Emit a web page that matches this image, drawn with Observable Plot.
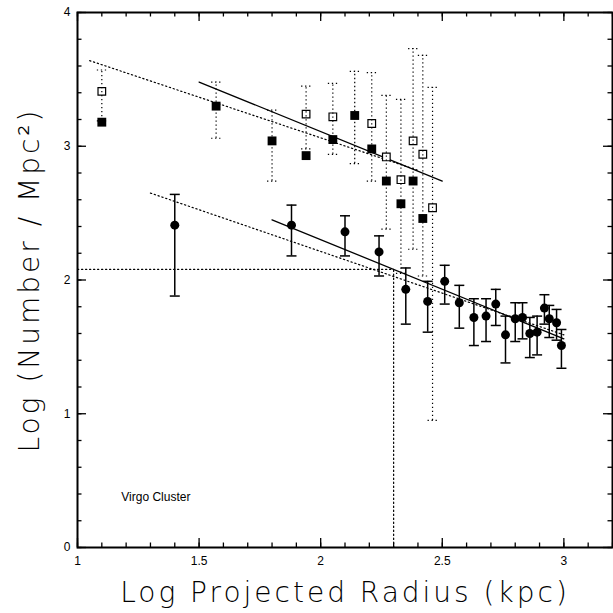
<!DOCTYPE html>
<html><head><meta charset="utf-8">
<script src="https://cdn.jsdelivr.net/npm/d3@7"></script>
<script src="https://cdn.jsdelivr.net/npm/@observablehq/plot@0.6"></script>
<style>body{margin:0;background:#fff}</style>
</head><body><div id="chart"></div>
<script>
// Squares (open = one sample, filled = another), dotted error bars
const sqX      = [1.10, 1.57, 1.80, 1.94, 2.05, 2.14, 2.21, 2.27, 2.33, 2.38, 2.42, 2.46];
const sqOpen   = [3.41, null, null, 3.24, 3.22, null, 3.17, 2.92, 2.75, 3.04, 2.94, 2.54];
const sqFilled = [3.18, 3.30, 3.04, 2.93, 3.05, 3.23, 2.98, 2.74, 2.57, 2.74, 2.46, null];
const sqHi     = [3.57, 3.48, 3.27, 3.45, 3.47, 3.56, 3.55, 3.38, 3.35, 3.73, 3.68, 3.44];
const sqLo     = [3.19, 3.06, 2.74, 2.98, 2.94, 2.87, 2.74, 2.38, 2.05, 2.23, 2.03, 0.95];

// Circles with solid error bars
const cX  = [1.40, 1.88, 2.10, 2.24, 2.35, 2.44, 2.51, 2.57, 2.63, 2.68, 2.72, 2.76, 2.80, 2.83, 2.86, 2.89, 2.92, 2.94, 2.97, 2.99];
const cY  = [2.41, 2.41, 2.36, 2.21, 1.93, 1.84, 1.99, 1.83, 1.72, 1.73, 1.82, 1.59, 1.71, 1.72, 1.60, 1.61, 1.79, 1.71, 1.68, 1.51];
const cHi = [2.64, 2.56, 2.48, 2.33, 2.09, 1.99, 2.11, 1.96, 1.86, 1.86, 1.93, 1.73, 1.83, 1.83, 1.72, 1.73, 1.89, 1.81, 1.78, 1.63];
const cLo = [1.88, 2.18, 2.18, 2.03, 1.67, 1.61, 1.82, 1.64, 1.51, 1.54, 1.66, 1.38, 1.54, 1.56, 1.42, 1.44, 1.67, 1.57, 1.55, 1.34];

// Fit lines (endpoints)
const fitSqSolidX  = [1.50, 2.50], fitSqSolidY  = [3.48, 2.74];
const fitSqDotX    = [1.05, 2.40], fitSqDotY    = [3.64, 2.82];
const fitCSolidX   = [1.80, 3.00], fitCSolidY   = [2.45, 1.56];
const fitCDotX     = [1.30, 3.00], fitCDotY     = [2.65, 1.59];
// Reference cross-hair
const refX = 2.30, refY = 2.08;

// Axis ticks
const xMajor = [1, 1.5, 2, 2.5, 3];
const xMinor = d3.range(10, 33).map(d => d / 10);
const yMajor = [0, 1, 2, 3, 4];
const yMinor = d3.range(0, 21).map(d => d / 5);

const xTitle = "Log Projected Radius (kpc)";
const yTitle = "Log (Number / Mpc\u00B2)";
const note = "Virgo Cluster";

const W = 613, H = 613, mL = 77, mR = 1, mT = 12, mB = 66;
const iH = H - mT - mB, iW = W - mL - mR;

const capSymbol = {draw(ctx, size) { const r = Math.sqrt(size / Math.PI); ctx.moveTo(-r, 0); ctx.lineTo(r, 0); }};

const circles = cX.map((x, i) => ({x, y: cY[i], lo: cLo[i], hi: cHi[i]}));
const squares = sqX.map((x, i) => ({x, open: sqOpen[i], filled: sqFilled[i], lo: sqLo[i], hi: sqHi[i]}));
const seg = (xs, ys) => xs.map((x, i) => ({x, y: ys[i]}));

const dots = "1.3,2.7";
const titleFont = "'DejaVu Sans', sans-serif";

const chart = Plot.plot({
  width: W, height: H,
  marginLeft: mL, marginRight: mR, marginTop: mT, marginBottom: mB,
  x: {domain: [1, 3.2]},
  y: {domain: [0, 4]},
  style: {fontFamily: "'Liberation Sans', Arial, sans-serif", background: "white"},
  marks: [
    // ticks (inward)
    Plot.ruleX(xMinor, {x: d => d, insetTop: iH - 4.5, strokeWidth: 1.3}),
    Plot.ruleX(xMinor, {x: d => d, insetBottom: iH - 4.5, strokeWidth: 1.3}),
    Plot.ruleX(xMajor, {x: d => d, insetTop: iH - 9, strokeWidth: 1.3}),
    Plot.ruleX(xMajor, {x: d => d, insetBottom: iH - 9, strokeWidth: 1.3}),
    Plot.ruleY(yMinor, {y: d => d, insetRight: iW - 4.5, strokeWidth: 1.3}),
    Plot.ruleY(yMinor, {y: d => d, insetLeft: iW - 4.5, strokeWidth: 1.3}),
    Plot.ruleY(yMajor, {y: d => d, insetRight: iW - 9, strokeWidth: 1.3}),
    Plot.ruleY(yMajor, {y: d => d, insetLeft: iW - 9, strokeWidth: 1.3}),
    Plot.axisX(xMajor, {tickSize: 0, tickPadding: 9, fontSize: 12, tickFormat: d => String(d), label: null}),
    Plot.axisY(yMajor, {tickSize: 0, tickPadding: 7, fontSize: 12, tickFormat: d => String(d), label: null}),
    Plot.frame({strokeWidth: 2}),
    // reference lines
    Plot.line([{x: 1, y: refY}, {x: refX, y: refY}], {x: "x", y: "y", strokeDasharray: dots, strokeWidth: 1.2}),
    Plot.line([{x: refX, y: 0}, {x: refX, y: refY}], {x: "x", y: "y", strokeDasharray: dots, strokeWidth: 1.2}),
    // fit lines
    Plot.line(seg(fitSqSolidX, fitSqSolidY), {x: "x", y: "y", strokeWidth: 1.3}),
    Plot.line(seg(fitSqDotX, fitSqDotY), {x: "x", y: "y", strokeDasharray: dots, strokeWidth: 1.2}),
    Plot.line(seg(fitCSolidX, fitCSolidY), {x: "x", y: "y", strokeWidth: 1.3}),
    Plot.line(seg(fitCDotX, fitCDotY), {x: "x", y: "y", strokeDasharray: dots, strokeWidth: 1.2}),
    // squares
    Plot.dot(squares, {x: "x", y: "open", symbol: "square", r: 4.3, fill: "white", stroke: "black", strokeWidth: 1.2}),
    Plot.ruleX(squares, {x: "x", y1: "lo", y2: "hi", strokeDasharray: dots, strokeWidth: 1.2}),
    Plot.dot(squares, {x: "x", y: "lo", symbol: capSymbol, r: 5, fill: "none", stroke: "black", strokeDasharray: dots, strokeWidth: 1.2}),
    Plot.dot(squares, {x: "x", y: "hi", symbol: capSymbol, r: 5, fill: "none", stroke: "black", strokeDasharray: dots, strokeWidth: 1.2}),
    Plot.dot(squares, {x: "x", y: "filled", symbol: "square", r: 5, fill: "black", stroke: "none"}),
    // circles
    Plot.ruleX(circles, {x: "x", y1: "lo", y2: "hi", strokeWidth: 1.5}),
    Plot.dot(circles, {x: "x", y: "lo", symbol: capSymbol, r: 5, fill: "none", stroke: "black", strokeWidth: 1.5}),
    Plot.dot(circles, {x: "x", y: "hi", symbol: capSymbol, r: 5, fill: "none", stroke: "black", strokeWidth: 1.5}),
    Plot.dot(circles, {x: "x", y: "y", r: 4.5, fill: "black", stroke: "none"}),
    // text
    Plot.text([note], {x: 1.18, y: 0.38, text: d => d, textAnchor: "start", fontSize: 12}),
    Plot.text([xTitle], {frameAnchor: "bottom", dy: 46, text: d => d, textAnchor: "middle", lineAnchor: "middle",
      fontSize: 28, fontWeight: 200, fontFamily: titleFont}),
    Plot.text([yTitle], {frameAnchor: "left", dx: -47, dy: 0, rotate: -90, text: d => d, textAnchor: "middle", lineAnchor: "middle",
      fontSize: 28, fontWeight: 200, fontFamily: titleFont})
  ]
});
d3.select(chart).selectAll("text").each(function() {
  const t = this.textContent;
  if (t === xTitle || t === yTitle) this.setAttribute("letter-spacing", "3px");
});
document.getElementById("chart").appendChild(chart);
</script>
</body></html>
